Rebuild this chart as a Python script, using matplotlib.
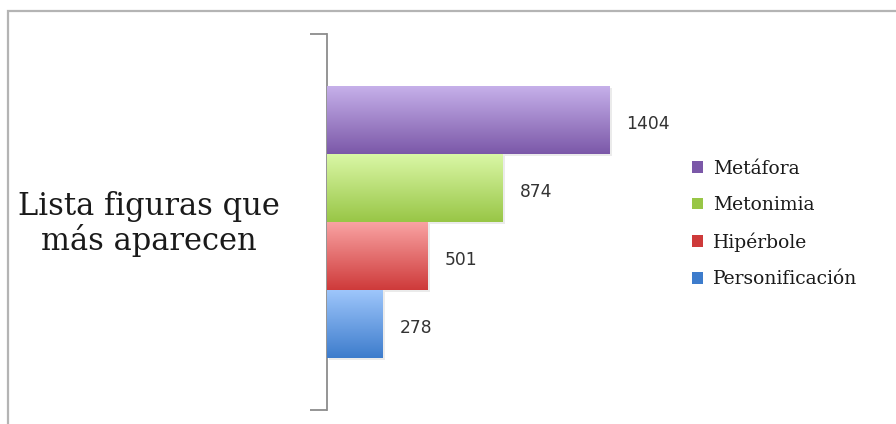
import matplotlib.pyplot as plt
import numpy as np
from matplotlib.colors import LinearSegmentedColormap
from matplotlib.patches import Rectangle

# Datos
figuras = ["Metáfora", "Metonimia", "Hipérbole", "Personificación"]
apariciones = [1404, 874, 501, 278]
color_claro = ["#C6B0EA", "#DAF7A6", "#F9A3A3", "#9EC6FB"]
color_oscuro = ["#7B58A8", "#98C646", "#CE3A3A", "#3D7CCC"]
categoria = "Lista figuras que\nmás aparecen"

fig = plt.figure(figsize=(8.96, 4.24), dpi=100)
W, H = 896, 424

# Marco gris del gráfico
fig.patches.append(Rectangle((8 / W, -0.1), 1.2, (H - 11) / H + 0.1,
                             transform=fig.transFigure, fill=False,
                             edgecolor="#B4B4B4", linewidth=1.6))

ax = fig.add_axes([327 / W, 14 / H, 322 / W, 376 / H])

alto = 68 / 376
n = len(figuras)
centros = [0.5 + (n / 2 - i - 0.5) * alto for i in range(n)]

grad = np.linspace(0, 1, 256).reshape(-1, 1)
for nombre, valor, y, c1, c2 in zip(figuras, apariciones, centros,
                                     color_claro, color_oscuro):
    # sombra suave
    ax.barh(y - 0.006, valor, height=alto, left=12, color="#000000",
            alpha=0.08, zorder=1)
    bar = ax.barh(y, valor, height=alto, color=c2, label=nombre,
                  zorder=2)[0]
    cmap = LinearSegmentedColormap.from_list(nombre, [c2, c1])
    img = ax.imshow(grad, cmap=cmap, aspect="auto", origin="lower",
                    extent=[0, valor, y - alto / 2, y + alto / 2], zorder=3)
    img.set_clip_path(bar)
    ax.text(valor + 82, y - 0.01, str(valor), va="center", ha="left",
            fontsize=12.3, color="#333333", family="DejaVu Sans")

ax.set_xlim(0, 1600)
ax.set_ylim(0, 1)

for lado in ["top", "right", "bottom"]:
    ax.spines[lado].set_visible(False)
ax.spines["left"].set_color("#8C8C8C")
ax.spines["left"].set_linewidth(1.3)
ax.set_xticks([])
ax.set_yticks([0, 1])
ax.set_yticklabels([])
ax.tick_params(axis="y", length=12, width=1.3, color="#8C8C8C")

fig.text(149 / W, 1 - 224 / H, categoria, ha="center", va="center",
         fontsize=22, family="DejaVu Serif", color="#1A1A1A",
         linespacing=1.05)

leg = fig.legend(loc="center left", bbox_to_anchor=(675 / W, 1 - 224 / H),
                 frameon=False, prop={"family": "DejaVu Serif", "size": 13.5},
                 handlelength=0.6, handleheight=0.6, handletextpad=0.55,
                 labelspacing=0.98)
for txt in leg.get_texts():
    txt.set_color("#1A1A1A")

fig.savefig("out.png", dpi=100, facecolor="white")
